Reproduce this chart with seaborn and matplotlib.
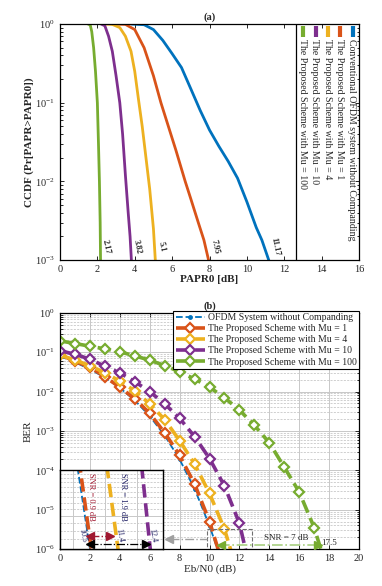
import numpy as np
import pandas as pd
import matplotlib
matplotlib.use("Agg")
import matplotlib.pyplot as plt
import matplotlib.ticker as mticker
from matplotlib.patches import Rectangle
import seaborn as sns

# (a) CCDF of PAPR
papr_conv = [3.8, 4.5, 5.0, 5.5, 6.0, 6.5, 7.0, 7.5, 8.0, 8.5, 9.0, 9.5, 10.0, 10.5, 10.8, 11.17]
ccdf_conv = [1.0, 0.98, 0.85, 0.62, 0.42, 0.28, 0.15, 0.08, 0.045, 0.028, 0.018, 0.011, 0.0055, 0.0026, 0.0018, 0.001]
papr_mu1 = [2.8, 3.5, 4.0, 4.5, 5.0, 5.4, 5.8, 6.2, 6.7, 7.0, 7.4, 7.7, 7.95]
ccdf_mu1 = [1.0, 0.99, 0.85, 0.5, 0.22, 0.1, 0.05, 0.025, 0.01, 0.006, 0.003, 0.0018, 0.001]
papr_mu4 = [2.3, 2.8, 3.2, 3.5, 3.8, 4.0, 4.2, 4.4, 4.6, 4.8, 5.0, 5.1]
ccdf_mu4 = [1.0, 0.99, 0.9, 0.7, 0.45, 0.25, 0.11, 0.05, 0.02, 0.008, 0.0025, 0.001]
papr_mu10 = [2.2, 2.4, 2.6, 2.8, 3.0, 3.2, 3.35, 3.5, 3.65, 3.75, 3.82]
ccdf_mu10 = [1.0, 0.95, 0.7, 0.45, 0.22, 0.1, 0.04, 0.012, 0.004, 0.002, 0.001]
papr_mu100 = [1.5, 1.62, 1.7, 1.8, 1.9, 2.0, 2.06, 2.11, 2.15, 2.17]
ccdf_mu100 = [1.0, 0.97, 0.8, 0.5, 0.25, 0.1, 0.03, 0.01, 0.003, 0.001]
papr_at_1e3 = [2.17, 3.82, 5.1, 7.95, 11.17]

labels_a = ["Conventional OFDM system without Companding",
            "The Proposed Scheme with Mu = 1",
            "The Proposed Scheme with Mu = 4",
            "The Proposed Scheme with Mu = 10",
            "The Proposed Scheme with Mu = 100"]

# (b) BER vs Eb/N0
ebn0_ofdm = [0, 1, 2, 3, 4, 5, 6, 7, 8, 9, 10, 11]
ber_ofdm = [8.0e-2, 5.6e-2, 3.7e-2, 2.3e-2, 1.25e-2, 6.0e-3, 2.4e-3, 7.7e-4, 1.9e-4, 3.4e-5, 3.9e-6, 3.0e-7]
ebn0_mu1 = [0, 1, 2, 3, 4, 5, 6, 7, 8, 9, 10, 11]
ber_mu1 = [8.8e-2, 5.9e-2, 4.2e-2, 2.4e-2, 1.3e-2, 6.6e-3, 2.8e-3, 9.0e-4, 2.4e-4, 4.5e-5, 5.0e-6, 3.0e-7]
ebn0_mu4 = [0, 1, 2, 3, 4, 5, 6, 7, 8, 9, 10, 11, 12]
ber_mu4 = [8.5e-2, 6.3e-2, 4.6e-2, 3.0e-2, 1.85e-2, 1.05e-2, 4.9e-3, 1.95e-3, 5.7e-4, 1.45e-4, 2.6e-5, 3.2e-6, 1.75e-7]
ebn0_mu10 = [0, 1, 2, 3, 4, 5, 6, 7, 8, 9, 10, 11, 12, 13]
ber_mu10 = [1.1e-1, 8.9e-2, 6.7e-2, 4.4e-2, 3.0e-2, 1.8e-2, 1.0e-2, 4.9e-3, 2.1e-3, 7.2e-4, 2.0e-4, 4.0e-5, 4.5e-6, 1.05e-7]
ebn0_mu100 = [0, 1, 2, 3, 4, 5, 6, 7, 8, 9, 10, 11, 12, 13, 14, 15, 16, 17, 18]
ber_mu100 = [1.95e-1, 1.67e-1, 1.43e-1, 1.22e-1, 1.03e-1, 8.1e-2, 6.3e-2, 4.6e-2, 3.2e-2, 2.1e-2,
             1.3e-2, 7.0e-3, 3.4e-3, 1.4e-3, 5.0e-4, 1.2e-4, 2.8e-5, 3.5e-6, 2.0e-7]

labels_b = ["OFDM System without Companding",
            "The Proposed Scheme with Mu = 1",
            "The Proposed Scheme with Mu = 4",
            "The Proposed Scheme with Mu = 10",
            "The Proposed Scheme with Mu = 100"]

yticks_a = [1e-3, 1e-2, 1e-1, 1]
yticks_b = [1e-6, 1e-5, 1e-4, 1e-3, 1e-2, 1e-1, 1]

colors = ["#0072BD", "#D95319", "#EDB120", "#7E2F8E", "#77AC30"]

sns.set_theme(style="ticks")
plt.rcParams["font.family"] = ["Liberation Serif", "DejaVu Serif"]
plt.rcParams["mathtext.fontset"] = "stix"
plt.rcParams["xtick.direction"] = "in"
plt.rcParams["ytick.direction"] = "in"
plt.rcParams["xtick.top"] = True
plt.rcParams["ytick.right"] = True
plt.rcParams["axes.linewidth"] = 0.9
plt.rcParams["axes.edgecolor"] = "black"

fig = plt.figure(figsize=(3.82, 5.86), dpi=100)
ax_a = fig.add_axes([0.157, 0.556, 0.783, 0.403])
ax_b = fig.add_axes([0.157, 0.063, 0.783, 0.403])

# ---------- panel (a)
curves_a = [(papr_conv, ccdf_conv), (papr_mu1, ccdf_mu1), (papr_mu4, ccdf_mu4),
            (papr_mu10, ccdf_mu10), (papr_mu100, ccdf_mu100)]
for (x, y), c in zip(curves_a, colors):
    sns.lineplot(x=x, y=y, ax=ax_a, color=c, lw=2, sort=False)

ax_a.set_yscale("log")
ax_a.set_xlim(0, 16)
ax_a.set_ylim(1e-3, 1)
ax_a.set_xticks(range(0, 17, 2))
ax_a.set_yticks(yticks_a)
ax_a.yaxis.set_major_formatter(mticker.LogFormatterMathtext())
ax_a.tick_params(which="both", labelsize=7.5, length=3, width=0.7)
ax_a.tick_params(which="minor", length=1.8)
ax_a.set_xlabel("PAPR0 [dB]", fontsize=8, fontweight="bold", labelpad=1)
ax_a.set_ylabel("CCDF (Pr[PAPR>PAPR0])", fontsize=8, fontweight="bold", labelpad=1)
ax_a.set_title("(a)", fontsize=7.5, fontweight="bold", pad=3)
ax_a.axvline(12.6, color="black", lw=0.9)

for v in papr_at_1e3:
    ax_a.text(v + 0.32, 1.5e-3, f"{v:g}", fontsize=6, rotation=-78,
              ha="center", va="center", fontweight="bold")

# legend drawn vertically on the right, like the original
for i, (lab, c) in enumerate(zip(labels_a, colors)):
    xf = 0.979 - i * 0.0415
    ax_a.plot([xf, xf], [0.945, 0.99], transform=ax_a.transAxes, color=c, lw=3,
              solid_capstyle="butt")
    ax_a.text(xf - 0.003, 0.935, lab, transform=ax_a.transAxes, rotation=-90,
              ha="center", va="top", fontsize=7.1)

# ---------- panel (b)
curves_b = [(ebn0_ofdm, ber_ofdm), (ebn0_mu1, ber_mu1), (ebn0_mu4, ber_mu4),
            (ebn0_mu10, ber_mu10), (ebn0_mu100, ber_mu100)]


def draw_ber(ax, with_label=True):
    for i, ((x, y), c, lab) in enumerate(zip(curves_b, colors, labels_b)):
        if i == 0:
            sns.lineplot(x=x, y=y, ax=ax, color=c, lw=1.3, linestyle="--", dashes=(4, 2.5),
                         marker="o", markersize=3.5, markeredgewidth=0,
                         label=lab if with_label else None)
        else:
            sns.lineplot(x=x, y=y, ax=ax, color=c, lw=2.6, linestyle="--", dashes=(3, 1.6),
                         marker="D", markersize=5, markerfacecolor="white",
                         markeredgecolor=c, markeredgewidth=1.6,
                         label=lab if with_label else None)


draw_ber(ax_b)
ax_b.set_yscale("log")
ax_b.set_xlim(0, 20)
ax_b.set_ylim(1e-6, 1)
ax_b.set_xticks(range(0, 21, 2))
ax_b.set_yticks(yticks_b)
ax_b.yaxis.set_major_formatter(mticker.LogFormatterMathtext())
ax_b.grid(which="major", color="#c8c8c8", lw=0.7, ls="-")
ax_b.grid(which="minor", axis="y", color="#c8c8c8", lw=0.6, ls=(0, (2.5, 1.5)))
ax_b.tick_params(which="both", labelsize=7.5, length=3, width=0.7)
ax_b.tick_params(which="minor", length=1.8)
ax_b.set_xlabel("Eb/N0 (dB)", fontsize=8, labelpad=1)
ax_b.set_ylabel("BER", fontsize=8, labelpad=2)
ax_b.set_title("(b)", fontsize=7.5, fontweight="bold", pad=3)

leg = ax_b.legend(loc="upper right", bbox_to_anchor=(1.0, 1.01), borderaxespad=0,
                  fontsize=7, handlelength=3.0, labelspacing=0.22, handletextpad=0.3,
                  borderpad=0.25, fancybox=False, framealpha=1, edgecolor="black")
leg.get_frame().set_linewidth(0.8)

# zoom box, arrows and notes on the main axes
ax_b.add_patch(Rectangle((9.8, 1e-6), 3.05, 2.2e-6, fill=False, ec="#707070",
                         lw=0.8, ls="--", zorder=6))
ax_b.plot([7.35, 9.8], [1.85e-6, 1.85e-6], color="#a0a0a0", lw=1, ls="-.", zorder=6)
ax_b.plot([7.3], [1.85e-6], marker="<", color="#a0a0a0", ms=6, zorder=6)
ax_b.plot([10.6, 17.3], [1.25e-6, 1.25e-6], color="#a8d080", lw=1.2, ls="-.", zorder=6)
ax_b.plot([10.75], [1.25e-6], marker="<", color="#77AC30", ms=6, zorder=6)
ax_b.plot([17.25], [1.25e-6], marker=">", color="#77AC30", ms=6, zorder=6)
ax_b.text(15.1, 1.95e-6, "SNR = 7 dB", fontsize=6.5, ha="center", va="center", zorder=6)
ax_b.text(17.5, 1.4e-6, "17.5", fontsize=6.5, ha="left", va="center", zorder=6)

# inset: zoom on the 1e-6 crossing
ax_in = ax_b.inset_axes([0, 0, 6.9 / 20, 2 / 6])
ax_in.set_zorder(7)
ax_in.set_facecolor("white")
draw_ber(ax_in, with_label=False)
ax_in.set_yscale("log")
ax_in.set_xlim(9.6, 12.8)
ax_in.set_ylim(1e-6, 2.6e-6)
ax_in.xaxis.set_major_locator(mticker.FixedLocator([10, 11, 12]))
ax_in.yaxis.set_major_locator(mticker.FixedLocator([1.5e-6]))
ax_in.yaxis.set_minor_locator(mticker.FixedLocator(np.arange(1.125e-6, 2.6e-6, 1.25e-7)))
ax_in.yaxis.set_major_formatter(mticker.NullFormatter())
ax_in.yaxis.set_minor_formatter(mticker.NullFormatter())
ax_in.xaxis.set_major_formatter(mticker.NullFormatter())
ax_in.grid(which="major", color="#c8c8c8", lw=0.7, ls="-")
ax_in.grid(which="minor", axis="y", color="#c8c8c8", lw=0.6, ls=(0, (2.5, 1.5)))
ax_in.tick_params(which="both", length=0, labelleft=False, labelbottom=False,
                  labeltop=False, labelright=False)
ax_in.xaxis.label.set_visible(False)
ax_in.yaxis.label.set_visible(False)
for s in ax_in.spines.values():
    s.set_linewidth(1.0)

T = ax_in.transAxes
ax_in.plot([0.29, 0.49], [0.165, 0.165], transform=T, color="#a01830", lw=1, ls="-.")
ax_in.plot([0.295], [0.165], transform=T, marker="<", color="#a01830", ms=6)
ax_in.plot([0.485], [0.165], transform=T, marker=">", color="#a01830", ms=6)
ax_in.plot([0.29, 0.84], [0.06, 0.06], transform=T, color="black", lw=0.9, ls="-.")
ax_in.plot([0.295], [0.06], transform=T, marker="<", color="black", ms=6)
ax_in.plot([0.835], [0.06], transform=T, marker=">", color="black", ms=6)
ax_in.text(0.30, 0.66, "SNR = 0.9 dB", transform=T, rotation=-90, fontsize=6,
           ha="center", va="center", color="#a01830")
ax_in.text(0.61, 0.66, "SNR = 1.9 dB", transform=T, rotation=-90, fontsize=6,
           ha="center", va="center", color="#1a1a60")
for xf, lab in zip([0.22, 0.58, 0.90], ["10.5", "11.4", "12.4"]):
    ax_in.text(xf, 0.17, lab, transform=T, rotation=-80, fontsize=5.8,
               ha="center", va="center", color="#1a1a60")

fig.savefig("out.png", dpi=100)
